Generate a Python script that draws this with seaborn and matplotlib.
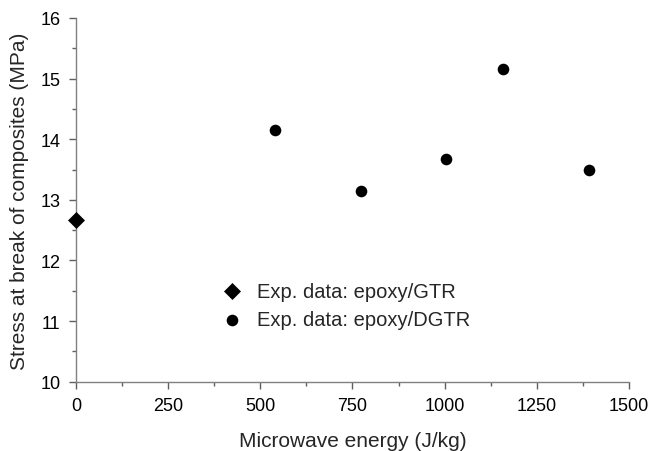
import matplotlib
matplotlib.use("Agg")
import matplotlib.pyplot as plt
import seaborn as sns
import pandas as pd
from matplotlib.ticker import MultipleLocator

# Data
gtr_energy = [0]
gtr_stress = [12.67]
dgtr_energy = [541, 773, 1003, 1157, 1391]
dgtr_stress = [14.15, 13.14, 13.68, 15.16, 13.50]

sns.set_style("ticks")
plt.rcParams['font.family'] = ['Liberation Sans', 'DejaVu Sans']

fig = plt.figure(figsize=(6.49, 4.52), dpi=100)
ax = fig.add_axes([0.1171, 0.1533, 0.8520, 0.8047])

gtr = pd.DataFrame({'energy': gtr_energy, 'stress': gtr_stress})
dgtr = pd.DataFrame({'energy': dgtr_energy, 'stress': dgtr_stress})

sns.scatterplot(data=gtr, x='energy', y='stress', marker='D', s=75, color='black',
                edgecolor='black', linewidth=0, label='Exp. data: epoxy/GTR', ax=ax,
                clip_on=False, zorder=5)
sns.scatterplot(data=dgtr, x='energy', y='stress', marker='o', s=70, color='black',
                edgecolor='black', linewidth=0, label='Exp. data: epoxy/DGTR', ax=ax,
                clip_on=False, zorder=5)

ax.set_xlim(0, 1500)
ax.set_ylim(10, 16)
ax.xaxis.set_major_locator(MultipleLocator(250))
ax.xaxis.set_minor_locator(MultipleLocator(125))
ax.yaxis.set_major_locator(MultipleLocator(1))
ax.yaxis.set_minor_locator(MultipleLocator(0.5))

for side in ['top', 'right']:
    ax.spines[side].set_visible(False)
for side in ['left', 'bottom']:
    ax.spines[side].set_color('#808080')
    ax.spines[side].set_linewidth(1.0)

ax.tick_params(which='major', direction='out', length=5, width=1, color='#606060',
               labelsize=13, labelcolor='black', pad=6)
ax.tick_params(which='minor', direction='out', length=3, width=1, color='#606060')

ax.set_xlabel('Microwave energy (J/kg)', fontsize=15, labelpad=12)
ax.set_ylabel('Stress at break of composites (MPa)', fontsize=15, labelpad=8)

ax.legend(loc='upper left', bbox_to_anchor=(0.232, 0.297), frameon=False,
          fontsize=14.5, handletextpad=0.2, labelspacing=0.45, borderaxespad=0)

fig.savefig('out.png', dpi=100)
